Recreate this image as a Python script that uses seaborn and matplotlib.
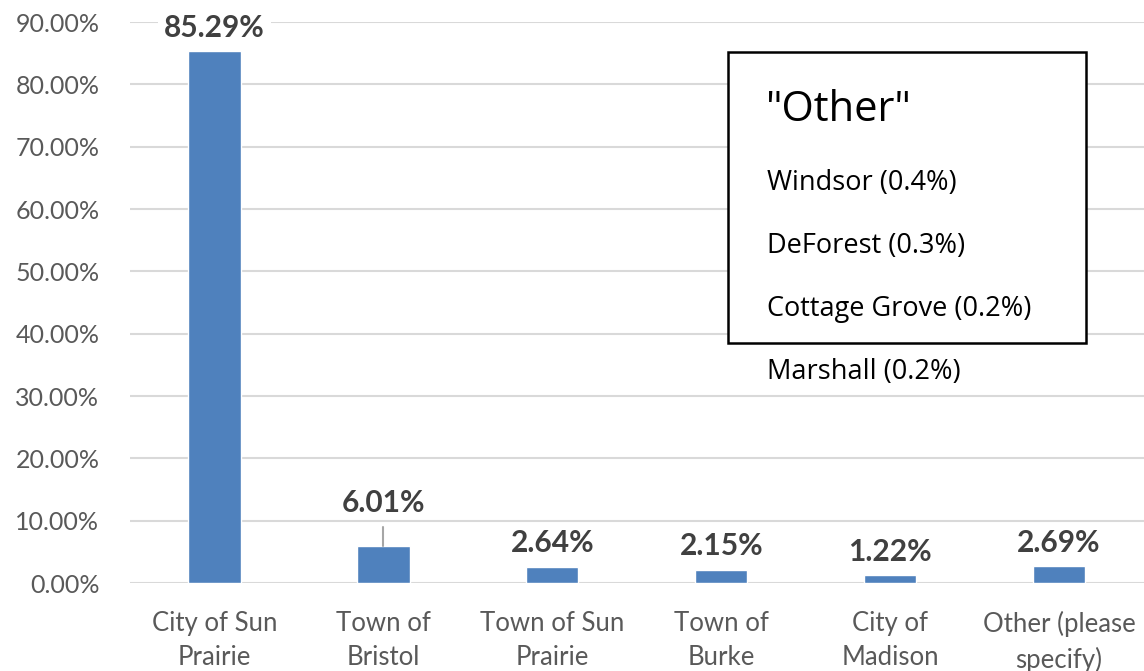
import pandas as pd
import numpy as np
import matplotlib.pyplot as plt
import seaborn as sns

categories = ["City of Sun\nPrairie", "Town of\nBristol", "Town of Sun\nPrairie",
              "Town of\nBurke", "City of\nMadison", "Other (please\nspecify)"]
shares = [85.29, 6.01, 2.64, 2.15, 1.22, 2.69]
other_places = ["Windsor (0.4%)", "DeForest (0.3%)", "Cottage Grove (0.2%)", "Marshall (0.2%)"]

df = pd.DataFrame({"place": categories, "share": shares})

sns.set_style("white")
plt.rcParams['font.family'] = ['Lato', 'DejaVu Sans']

fig = plt.figure(figsize=(11.44, 6.71), dpi=100)
ax = fig.add_axes([0.1136, 0.131, 0.886, 0.836])

sns.barplot(data=df, x="place", y="share", color="#4F81BD", saturation=1,
            width=0.31, ax=ax, zorder=3)

ax.set_ylim(0, 90)
ax.set_xlim(-0.5, 5.5)
ax.set_yticks(np.arange(0, 91, 10))
ax.set_yticklabels([f"{v:.2f}%" for v in np.arange(0, 91, 10)])
ax.yaxis.grid(True, color="#D9D9D9", linewidth=1.5, zorder=0)
ax.set_axisbelow(True)
for s in ax.spines.values():
    s.set_visible(False)
ax.tick_params(axis="y", length=0, labelsize=18, colors="#595959", pad=22)
ax.tick_params(axis="x", length=0, labelsize=18.5, colors="#595959", pad=20)
ax.set_xlabel("")
ax.set_ylabel("")
for lab in ax.get_xticklabels():
    lab.set_linespacing(1.45)

# value labels
for i, v in enumerate(shares):
    if i == 1:
        ax.text(i, v + 6.8, f"{v:.2f}%", ha="center", va="center",
                fontsize=21.5, fontweight="bold", color="#404040", zorder=5)
        ax.plot([i, i], [v, v + 3.0], color="#A6A6A6", lw=1.5, zorder=4)
    else:
        ax.text(i, v + 3.8, f"{v:.2f}%", ha="center", va="center",
                fontsize=21.5, fontweight="bold", color="#404040",
                bbox=dict(boxstyle="square,pad=0.2", fc="white", ec="none"), zorder=5)

# "Other" breakdown box
box = plt.Rectangle((728 / 1144, 1 - 343 / 671), (1086 - 728) / 1144, (343 - 52) / 671,
                    transform=fig.transFigure, fc="white", ec="black", lw=1.8, zorder=6)
fig.patches.append(box)
fig.text(766 / 1144, 1 - 110 / 671, '"Other"', fontsize=30, color="black",
         va="center", ha="left", family=["Open Sans", "DejaVu Sans"], zorder=7)
for k, name in enumerate(other_places):
    fig.text(767 / 1144, 1 - (183 + k * 63) / 671, name, fontsize=19.5, color="black",
             va="center", ha="left", family=["Open Sans", "DejaVu Sans"], zorder=7)

fig.savefig("out.png", dpi=100)
